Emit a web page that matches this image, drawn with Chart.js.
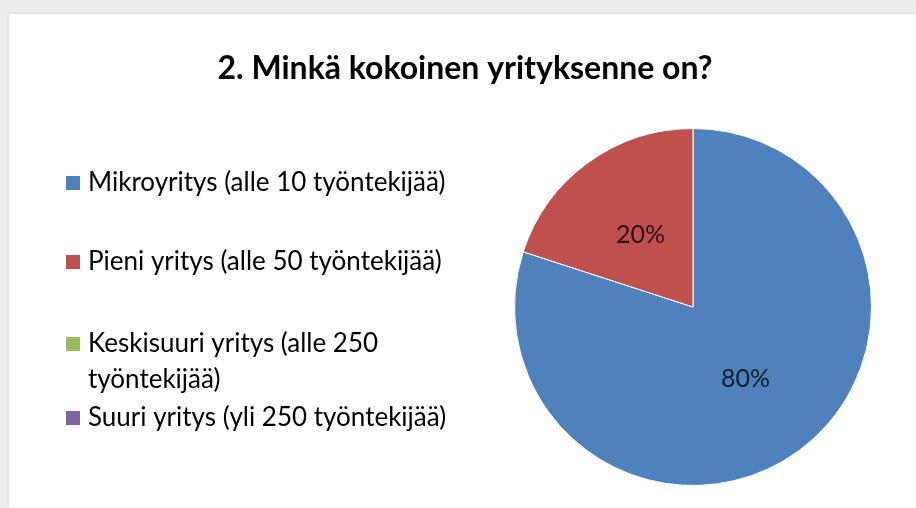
<!DOCTYPE html>
<html lang="fi">
<head>
<meta charset="utf-8">
<title>2. Minkä kokoinen yrityksenne on?</title>
<script src="https://cdn.jsdelivr.net/npm/chart.js@4/dist/chart.umd.min.js"></script>
<style>
    html, body {
        margin: 0;
        padding: 0;
        width: 916px;
        height: 508px;
        overflow: hidden;
        background: #ececec;
    }
    #panel {
        position: absolute;
        left: 9px;
        top: 14px;
        width: 907px;
        height: 494px;
        background: #ffffff;
        box-shadow: 0 0 3px rgba(0, 0, 0, 0.12);
    }
    #chart {
        display: block;
    }
</style>
</head>
<body>
<div id="panel">
    <canvas id="chart" width="907" height="494"></canvas>
</div>
<script>
// Kyselyn vastaukset
const chartTitle = '2. Minkä kokoinen yrityksenne on?';
const categories = [
    'Mikroyritys (alle 10 työntekijää)',
    'Pieni yritys (alle 50 työntekijää)',
    ['Keskisuuri yritys (alle 250', 'työntekijää)'],
    'Suuri yritys (yli 250 työntekijää)'
];
const shares = [80, 20, 0, 0];
const sliceColors = ['#4f81bd', '#c0504d', '#9bbb59', '#8064a2'];

// Asettelu
const fontFamily = 'Lato, "Open Sans", "Noto Sans", sans-serif';
const legendRowsY = [169, 248, 330, 404];
const legendLineHeight = 36;

const canvas = document.getElementById('chart');

// Otsikko
const titlePlugin = {
    id: 'plainTitle',
    afterDraw: function(chart) {
        const ctx = chart.ctx;
        ctx.save();
        ctx.font = 'bold 32px ' + fontFamily;
        ctx.fillStyle = '#000000';
        ctx.textAlign = 'center';
        ctx.textBaseline = 'alphabetic';
        ctx.fillText(chartTitle, 456, 65);
        ctx.restore();
    }
};

// Selite vasemmalle
const legendPlugin = {
    id: 'sideLegend',
    afterDraw: function(chart) {
        const ctx = chart.ctx;
        const ds = chart.data.datasets[0];
        ctx.save();
        ctx.font = '26px ' + fontFamily;
        ctx.fillStyle = '#000000';
        ctx.textAlign = 'left';
        ctx.textBaseline = 'middle';
        chart.data.labels.forEach(function(label, i) {
            const y = legendRowsY[i];
            ctx.fillStyle = ds.backgroundColor[i];
            ctx.fillRect(57, y - 7, 14, 14);
            ctx.fillStyle = '#000000';
            const lines = Array.isArray(label) ? label : [label];
            lines.forEach(function(line, j) {
                ctx.fillText(line, 79, y + j * legendLineHeight);
            });
        });
        ctx.restore();
    }
};

// Prosenttiluvut sektoreiden päälle
const valueLabelPlugin = {
    id: 'valueLabels',
    afterDatasetsDraw: function(chart) {
        const ctx = chart.ctx;
        const meta = chart.getDatasetMeta(0);
        const values = chart.data.datasets[0].data;
        ctx.save();
        ctx.font = '25px ' + fontFamily;
        ctx.fillStyle = 'rgba(0, 0, 0, 0.78)';
        ctx.textAlign = 'center';
        ctx.textBaseline = 'middle';
        meta.data.forEach(function(arc, i) {
            if (!values[i]) return;
            const pos = arc.tooltipPosition();
            ctx.fillText(values[i] + '%', pos.x, pos.y);
        });
        ctx.restore();
    }
};

new Chart(canvas, {
    type: 'pie',
    data: {
        labels: categories,
        datasets: [{
            data: shares,
            backgroundColor: sliceColors,
            borderColor: '#ffffff',
            borderWidth: 1
        }]
    },
    options: {
        responsive: false,
        animation: false,
        events: [],
        layout: {
            padding: {
                left: 505,
                right: 44,
                top: 113,
                bottom: 21
            }
        },
        plugins: {
            legend: { display: false },
            title: { display: false },
            tooltip: { enabled: false }
        }
    },
    plugins: [titlePlugin, legendPlugin, valueLabelPlugin]
});
</script>
</body>
</html>
